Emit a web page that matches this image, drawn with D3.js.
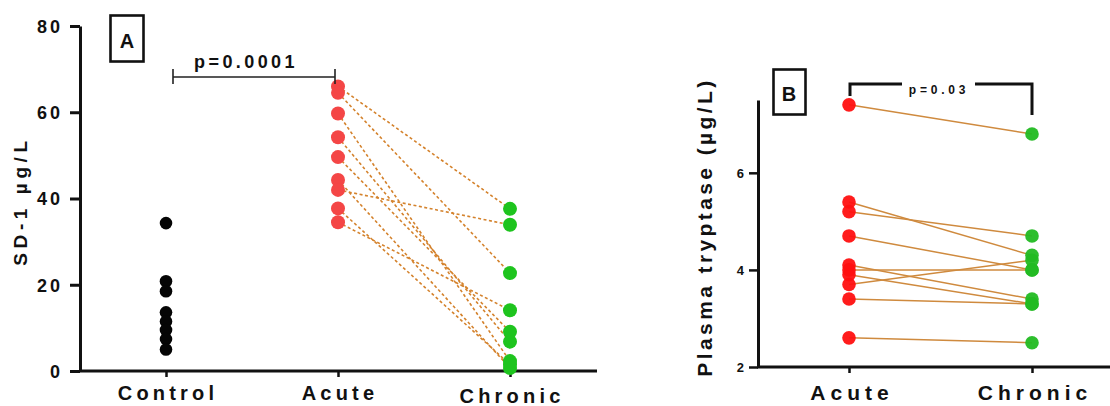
<!DOCTYPE html>
<html>
<head>
<meta charset="utf-8">
<script src="https://cdn.jsdelivr.net/npm/d3@7/dist/d3.min.js"></script>
<style>
  html, body { margin: 0; padding: 0; background: #fff; }
  svg { display: block; }
  text { font-family: "Liberation Sans", Arial, sans-serif; font-weight: bold; fill: #111; }
</style>
</head>
<body>
<svg id="chart" width="1110" height="406"></svg>
<script>
// ---- Panel A: serum SD-1 (µg/L) ----
const groupsA = ["Control", "Acute", "Chronic"];
const controlSD1 = [34.3, 20.8, 18.5, 13.6, 11.5, 9.5, 7.4, 5.0];
// acute and chronic values are paired by patient (same index)
const acuteSD1   = [66.0, 64.5, 59.7, 54.2, 49.6, 44.3, 42.0, 37.7, 34.5];
const chronicSD1 = [37.6, 22.7, 2.3, 6.8, 9.1, 0.7, 33.9, 1.5, 14.1];
const ticksA = [0, 20, 40, 60, 80];
const pValueA = "p=0.0001";

// ---- Panel B: plasma tryptase (µg/L) ----
const groupsB = ["Acute", "Chronic"];
const acuteTryptase   = [7.4, 5.4, 5.2, 4.7, 4.1, 4.0, 3.9, 3.7, 3.4, 2.6];
const chronicTryptase = [6.8, 4.3, 4.7, 4.0, 3.4, 4.0, 3.3, 4.2, 3.3, 2.5];
const ticksB = [2, 4, 6];
const pValueB = "p=0.03";

const svg = d3.select("#chart");

// ================= Panel A =================
const xA = d3.scalePoint().domain(groupsA).range([166, 510]);
const yA = d3.scaleLinear().domain([0, 80]).range([371, 26]);
const gA = svg.append("g");

// y axis
const yAxisA = gA.append("g")
  .attr("transform", "translate(80,0)")
  .call(d3.axisLeft(yA).tickValues(ticksA).tickFormat(d3.format("d"))
    .tickSize(10).tickSizeOuter(0).tickPadding(7));
yAxisA.select(".domain").attr("stroke", "#111").attr("stroke-width", 3);
yAxisA.selectAll(".tick line").attr("stroke", "#111").attr("stroke-width", 3);
yAxisA.selectAll(".tick text")
  .attr("fill", "#111").style("font-size", "18px").style("letter-spacing", "3px")
  .attr("dy", "0.36em");

// x axis baseline + ticks
const xAxisA = gA.append("g")
  .attr("transform", `translate(0,${yA(0)})`)
  .call(d3.axisBottom(xA).tickSize(6).tickSizeOuter(0).tickFormat(""));
xAxisA.select(".domain").remove();
xAxisA.selectAll(".tick line").attr("stroke", "#111").attr("stroke-width", 2.5);
gA.append("line")
  .attr("x1", 79).attr("x2", 597).attr("y1", yA(0)).attr("y2", yA(0))
  .attr("stroke", "#111").attr("stroke-width", 3);

// category labels
const labelOffA = { Control: 0, Acute: 0, Chronic: 3 };
gA.selectAll("text.catA").data(groupsA).join("text")
  .attr("class", "catA")
  .attr("x", d => xA(d) + 2)
  .attr("y", d => 400 + labelOffA[d])
  .attr("text-anchor", "middle")
  .style("font-size", "20px").style("letter-spacing", "4.2px")
  .text(d => d);

// y label
gA.append("text")
  .attr("transform", `translate(27,${201}) rotate(-90)`)
  .attr("text-anchor", "middle")
  .style("font-size", "19px").style("letter-spacing", "4.6px")
  .text("SD-1 µg/L");

// paired lines acute -> chronic
gA.selectAll("line.pairA").data(acuteSD1).join("line")
  .attr("class", "pairA")
  .attr("x1", xA("Acute")).attr("y1", d => yA(d))
  .attr("x2", xA("Chronic")).attr("y2", (d, i) => yA(chronicSD1[i]))
  .attr("stroke", "#d4822c").attr("stroke-width", 1.6)
  .attr("stroke-dasharray", "3,2.5");

// points
gA.selectAll("circle.ctrl").data(controlSD1).join("circle")
  .attr("cx", xA("Control")).attr("cy", d => yA(d)).attr("r", 6.3)
  .attr("fill", "#050505");
gA.selectAll("circle.acute").data(acuteSD1).join("circle")
  .attr("cx", xA("Acute")).attr("cy", d => yA(d)).attr("r", 7)
  .attr("fill", "#f44646");
gA.selectAll("circle.chronic").data(chronicSD1).join("circle")
  .attr("cx", xA("Chronic")).attr("cy", d => yA(d)).attr("r", 7)
  .attr("fill", "#1ec41e");

// significance bracket
const brA = 77;
gA.append("path")
  .attr("d", `M${xA("Control") + 7},${brA - 8}V${brA + 7}M${xA("Control") + 7},${brA}H${xA("Acute") - 3}M${xA("Acute") - 3},${brA - 8}V${brA + 7}`)
  .attr("fill", "none").attr("stroke", "#222").attr("stroke-width", 1.6);
gA.append("text")
  .attr("x", 246).attr("y", 68)
  .attr("text-anchor", "middle")
  .style("font-size", "18px").style("letter-spacing", "3.4px")
  .text(pValueA);

// panel tag
gA.append("rect").attr("x", 110.5).attr("y", 15.5).attr("width", 33).attr("height", 46)
  .attr("fill", "none").attr("stroke", "#111").attr("stroke-width", 2.6);
gA.append("text").attr("x", 127).attr("y", 48).attr("text-anchor", "middle")
  .style("font-size", "20px").text("A");

// ================= Panel B =================
const xB = d3.scalePoint().domain(groupsB).range([849, 1032]);
const yB = d3.scaleLinear().domain([2, 7.5]).range([367, 100]);
const gB = svg.append("g");

const yAxisB = gB.append("g")
  .attr("transform", "translate(758,0)")
  .call(d3.axisLeft(yB).tickValues(ticksB).tickFormat(d3.format("d"))
    .tickSize(9).tickSizeOuter(0).tickPadding(5));
yAxisB.select(".domain").attr("stroke", "#111").attr("stroke-width", 3);
yAxisB.selectAll(".tick line").attr("stroke", "#111").attr("stroke-width", 2.5);
yAxisB.selectAll(".tick text")
  .attr("fill", "#1a1a3a").style("font-size", "13px")
  .attr("dy", "0.36em");

const xAxisB = gB.append("g")
  .attr("transform", `translate(0,${yB(2)})`)
  .call(d3.axisBottom(xB).tickSize(6).tickSizeOuter(0).tickFormat(""));
xAxisB.select(".domain").remove();
xAxisB.selectAll(".tick line").attr("stroke", "#111").attr("stroke-width", 2.5);
gB.append("line")
  .attr("x1", 757).attr("x2", 1110).attr("y1", yB(2)).attr("y2", yB(2))
  .attr("stroke", "#111").attr("stroke-width", 3);

gB.selectAll("text.catB").data(groupsB).join("text")
  .attr("class", "catB")
  .attr("x", d => xB(d) + 3)
  .attr("y", 400)
  .attr("text-anchor", "middle")
  .style("font-size", "21px").style("letter-spacing", "5px")
  .text(d => d);

gB.append("text")
  .attr("transform", `translate(712,${227}) rotate(-90)`)
  .attr("text-anchor", "middle")
  .style("font-size", "21px").style("letter-spacing", "3.4px")
  .text("Plasma tryptase (µg/L)");

gB.selectAll("line.pairB").data(acuteTryptase).join("line")
  .attr("class", "pairB")
  .attr("x1", xB("Acute")).attr("y1", d => yB(d))
  .attr("x2", xB("Chronic")).attr("y2", (d, i) => yB(chronicTryptase[i]))
  .attr("stroke", "#cf8a3e").attr("stroke-width", 1.5);

gB.selectAll("circle.acuteB").data(acuteTryptase).join("circle")
  .attr("cx", xB("Acute")).attr("cy", d => yB(d)).attr("r", 6.8)
  .attr("fill", "#ff1010").attr("fill-opacity", 0.95);
gB.selectAll("circle.chronicB").data(chronicTryptase).join("circle")
  .attr("cx", xB("Chronic")).attr("cy", d => yB(d)).attr("r", 6.8)
  .attr("fill", "#22bb22").attr("fill-opacity", 0.95);

// bracket with p-value
const brB = 84;
gB.append("path")
  .attr("d", `M${xB("Acute") + 1},${brB + 12}V${brB}H902M975,${brB}H${xB("Chronic")}V${brB + 31}`)
  .attr("fill", "none").attr("stroke", "#111").attr("stroke-width", 3);
gB.append("text")
  .attr("x", 939).attr("y", 94)
  .attr("text-anchor", "middle")
  .style("font-size", "12px").style("letter-spacing", "3.8px")
  .text(pValueB);

gB.append("rect").attr("x", 773.5).attr("y", 69.5).attr("width", 32).attr("height", 45)
  .attr("fill", "none").attr("stroke", "#111").attr("stroke-width", 2.6);
gB.append("text").attr("x", 789).attr("y", 101).attr("text-anchor", "middle")
  .style("font-size", "20px").text("B");
</script>
</body>
</html>
